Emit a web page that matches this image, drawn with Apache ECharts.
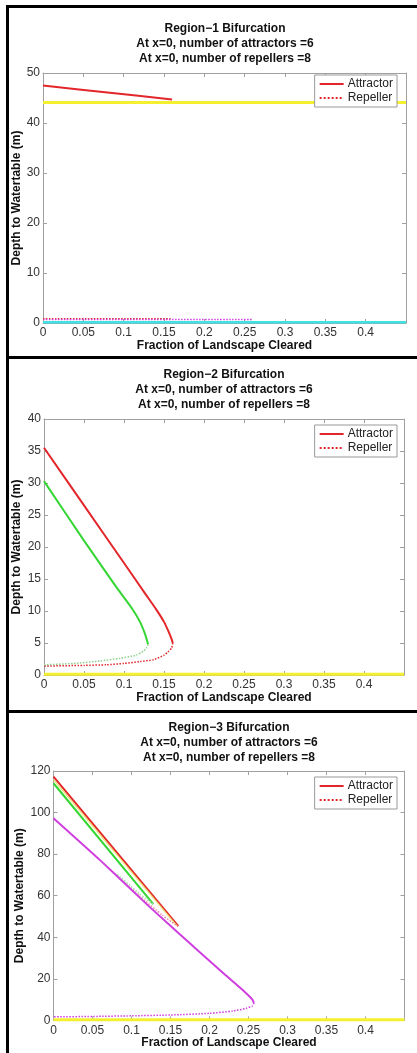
<!DOCTYPE html>
<html>
<head>
<meta charset="utf-8">
<script src="https://cdn.jsdelivr.net/npm/echarts@6/dist/echarts.min.js"></script>
<style>
  html, body { margin: 0; padding: 0; background: #fff; }
  #main { width: 417px; height: 1053px; }
</style>
</head>
<body>
<div id="main"></div>
<script>
// axis ranges / ticks for the three panels
const xMax = 0.45
const xStep = 0.05
const yMaxs = [50, 40, 120]
const ySteps = [10, 5, 20]
const panelTitles = ['Region\u22121 Bifurcation', 'Region\u22122 Bifurcation', 'Region\u22123 Bifurcation']
const subTitle1 = 'At x=0, number of attractors =6'
const subTitle2 = 'At x=0, number of repellers =8'

// Region 1 curves  [fraction cleared, depth]
const r1RedAttractor = [[0, 47.5], [0.08, 46.1], [0.16, 44.7]]
const r1Yellow = [[0, 44.1], [0.45, 44.1]]
const r1MagentaRepeller = [[0, 0.7], [0.26, 0.7]]
const r1RedRepeller = [[0, 0.85], [0.16, 0.85]]
const r1Cyan = [[0, 0.15], [0.45, 0.15]]

// Region 2 curves
const r2RedAttractor = [[0, 35.5], [0.05, 26.5], [0.1, 17.5], [0.126, 12.8], [0.14, 10.3], [0.15, 8.3],
  [0.156, 6.7], [0.1595, 5.6], [0.161, 5.0]]
const r2RedRepeller = [[0.161, 5.0], [0.1595, 4.2], [0.155, 3.6], [0.15, 3.1], [0.137, 2.4], [0.12, 2.1],
  [0.1, 1.8], [0.078, 1.6], [0.05, 1.5], [0, 1.4]]
const r2GreenAttractor = [[0, 30.3], [0.05, 21], [0.09, 13.8], [0.11, 10.4], [0.12, 8.3], [0.126, 6.5],
  [0.129, 5.3], [0.13, 4.8]]
const r2GreenRepeller = [[0.13, 4.8], [0.128, 4.2], [0.124, 3.7], [0.115, 3.1], [0.0946, 2.6],
  [0.07, 2.2], [0.0366, 1.8], [0, 1.6]]
const r2Yellow = [[0, 0.1], [0.45, 0.1]]

// Region 3 curves
const r3RedAttractor = [[0, 117.3], [0.16, 45.4]]
const r3YellowAttractor = [[0, 115.9], [0.158, 45.6]]
const r3GreenAttractor = [[0, 114.1], [0.128, 56]]
const r3RedRepeller = [[0.16, 45.2], [0.14, 50.5], [0.11, 60], [0.07, 73.5]]
const r3GreenRepeller = [[0.128, 56], [0.11, 61], [0.08, 71]]
const r3MagentaAttractor = [[0, 97.3], [0.06, 77], [0.1235, 54.5], [0.1876, 32.8], [0.22, 22],
  [0.24, 15.5], [0.25, 12], [0.255, 10], [0.257, 8.5]]
const r3MagentaRepeller = [[0.257, 8.5], [0.255, 7], [0.247, 5.8], [0.23, 4.5], [0.2, 3.4],
  [0.15, 2.6], [0.1, 2.2], [0.05, 1.9], [0, 1.7]]
const r3Yellow = [[0, 0.3], [0.45, 0.3]]

const RED = '#e3262a'
const GREEN = '#33d633'
const YELLOW = '#f4f030'
const MAGENTA = '#cf3fe0'
const CYAN = '#3fe3e3'
const BOX = '#a0a0a0'
const FONT = "'Liberation Sans', Arial, sans-serif"

// plot areas (px) for each panel
const grids = [
  { left: 43, top: 73, width: 363, height: 250 },
  { left: 44, top: 419, width: 360, height: 256 },
  { left: 53.5, top: 771, width: 351, height: 249.4 }
]
const titleTops = [21.5, 367.5, 720]
const titleCenters = [225, 224, 229]
const legendTops = [75, 425, 777]
const yNameGaps = [20, 21.3, 28]

function line(name, data, gi, color, width, type, z) {
  return {
    name: name,
    type: 'line',
    xAxisIndex: gi * 2,
    yAxisIndex: gi * 2,
    data: data,
    symbol: 'none',
    showSymbol: false,
    smooth: 0.2,
    z: z || 2,
    color: color,
    lineStyle: { color: color, width: width, type: type || 'solid' },
    emphasis: { disabled: true }
  }
}

const chart = echarts.init(document.getElementById('main'), null, { renderer: 'canvas' })

const xAxis = []
const yAxis = []
const title = []
const legend = []
for (let i = 0; i < 3; ++i) {
  const common = {
    gridIndex: i,
    type: 'value',
    axisLine: { show: true, onZero: false, lineStyle: { color: BOX, width: 1 } },
    axisTick: { show: true, inside: true, length: 4, lineStyle: { color: BOX } },
    splitLine: { show: false }
  }
  xAxis.push(Object.assign({}, common, {
    position: 'bottom', min: 0, max: xMax, interval: xStep,
    axisLabel: { show: true, margin: 4, fontSize: 12, color: '#333', fontFamily: FONT, showMaxLabel: false },
    name: 'Fraction of Landscape Cleared',
    nameLocation: 'middle',
    nameGap: 16.5,
    nameMoveOverlap: false,
    nameTextStyle: { fontSize: 12, fontWeight: 'bold', color: '#111', fontFamily: FONT }
  }))
  xAxis.push(Object.assign({}, common, {
    position: 'top', min: 0, max: xMax, interval: xStep,
    axisLabel: { show: false }
  }))
  yAxis.push(Object.assign({}, common, {
    position: 'left', min: 0, max: yMaxs[i], interval: ySteps[i],
    axisLabel: { show: true, margin: 3, fontSize: 12, color: '#333', fontFamily: FONT },
    name: 'Depth to Watertable (m)',
    nameLocation: 'middle',
    nameGap: yNameGaps[i],
    nameMoveOverlap: false,
    nameTextStyle: { fontSize: 12, fontWeight: 'bold', color: '#111', fontFamily: FONT }
  }))
  yAxis.push(Object.assign({}, common, {
    position: 'right', min: 0, max: yMaxs[i], interval: ySteps[i],
    axisLabel: { show: false }
  }))

  title.push({
    text: panelTitles[i] + '\n' + subTitle1 + '\n' + subTitle2,
    left: titleCenters[i],
    top: titleTops[i],
    textAlign: 'center',
    padding: 0,
    textStyle: { fontSize: 12, fontWeight: 'bold', color: '#111', lineHeight: 15, fontFamily: FONT }
  })

  legend.push({
    data: ['Attractor', 'Repeller'],
    orient: 'vertical',
    right: 20,
    top: legendTops[i],
    itemWidth: 24,
    itemHeight: 12,
    itemGap: 2,
    padding: [3, 4, 3, 4],
    backgroundColor: '#fff',
    borderColor: '#999',
    borderWidth: 1,
    borderRadius: 0,
    selectedMode: false,
    itemStyle: { opacity: 0 }, // line only, no marker
    textStyle: { fontSize: 12, color: '#222', fontFamily: FONT, padding: [0, 0, 0, -1] }
  })
}

const series = [
  // region 1
  line('Attractor', r1RedAttractor, 0, RED, 2),
  line('Repeller', r1RedRepeller, 0, RED, 1.5, 'dotted'),
  line('r1-yellow', r1Yellow, 0, YELLOW, 3),
  line('r1-magenta-rep', r1MagentaRepeller, 0, MAGENTA, 1.5, 'dotted', 3),
  line('r1-cyan', r1Cyan, 0, CYAN, 2.5),
  // region 2
  line('Attractor', r2RedAttractor, 1, RED, 2),
  line('Repeller', r2RedRepeller, 1, RED, 1.5, 'dotted'),
  line('r2-green', r2GreenAttractor, 1, GREEN, 2),
  line('r2-green-rep', r2GreenRepeller, 1, '#8fcf8f', 1.5, 'dotted'),
  line('r2-yellow', r2Yellow, 1, YELLOW, 3),
  // region 3
  line('Attractor', r3RedAttractor, 2, RED, 2),
  line('r3-yellow-att', r3YellowAttractor, 2, '#e8e070', 1.2),
  line('r3-green', r3GreenAttractor, 2, GREEN, 2),
  line('Repeller', r3RedRepeller, 2, '#f08aa8', 1.5, 'dotted'),
  line('r3-green-rep', r3GreenRepeller, 2, '#a8dca8', 1.5, 'dotted'),
  line('r3-magenta', r3MagentaAttractor, 2, MAGENTA, 2),
  line('r3-magenta-rep', r3MagentaRepeller, 2, MAGENTA, 1.5, 'dotted'),
  line('r3-yellow', r3Yellow, 2, YELLOW, 3)
]

// black frame lines between the panels
const frame = [
  { x: 6, y: 5, w: 3, h: 1048 },
  { x: 6, y: 5, w: 411, h: 3 },
  { x: 6, y: 356, w: 411, h: 3 },
  { x: 6, y: 710, w: 411, h: 3 }
].map(function (r) {
  return { type: 'rect', shape: { x: r.x, y: r.y, width: r.w, height: r.h }, style: { fill: '#000' }, z: 100 }
})

chart.setOption({
  backgroundColor: '#ffffff',
  animation: false,
  textStyle: { fontFamily: FONT },
  title: title,
  legend: legend,
  grid: grids.map(function (g) { return Object.assign({ show: false, containLabel: false }, g) }),
  xAxis: xAxis,
  yAxis: yAxis,
  series: series,
  graphic: frame
})
</script>
</body>
</html>
